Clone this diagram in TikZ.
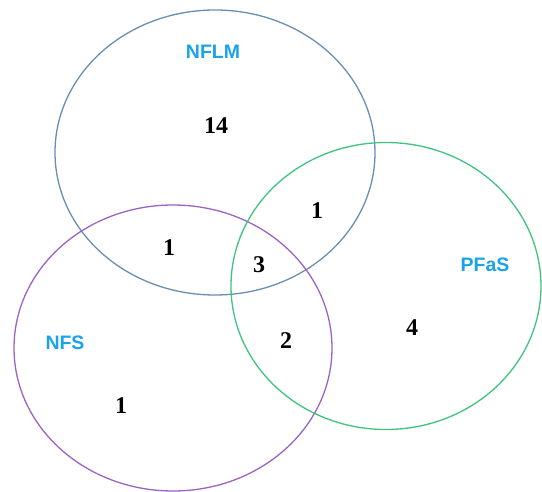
\documentclass[tikz,border=0pt]{standalone}
\usepackage{fontspec}
\newfontfamily\labelfont{Liberation Sans}
\newfontfamily\numfont{Liberation Serif}
\definecolor{setblue}{HTML}{6A8DB2}
\definecolor{setpurple}{HTML}{9B63C6}
\definecolor{setgreen}{HTML}{3EC47E}
\definecolor{labelblue}{HTML}{1AA3E8}
\begin{document}
\begin{tikzpicture}[x=1pt,y=-1pt,
  setring/.style={line width=1.3pt},
  setname/.style={font=\labelfont\bfseries\fontsize{19.5}{22}\selectfont, text=labelblue, inner sep=0pt},
  count/.style={font=\numfont\bfseries\fontsize{24}{28}\selectfont, text=black, inner sep=0pt}]
  \useasboundingbox (0,0) rectangle (542,492);
  % the three sets
  \draw[setring, setblue]   (215,152.5) ellipse [x radius=160, y radius=142.5];
  \draw[setring, setpurple] (173,348) ellipse [x radius=159, y radius=143];
  \draw[setring, setgreen]  (386,286) ellipse [x radius=155, y radius=143.5];
  % set names
  \node[setname] (nflm) at (213,52) {NFLM};
  \node[setname] (nfs)  at (65,343) {NFS};
  \node[setname] (pfas) at (485,265) {PFaS};
  % region counts
  \node[count] (onlyNFLM) at (216,126) {14};
  \node[count] (nflmPfas) at (317,211) {1};
  \node[count] (nflmNfs)  at (169,248) {1};
  \node[count] (allThree) at (259,265) {3};
  \node[count] (nfsPfas)  at (286,341) {2};
  \node[count] (onlyPFaS) at (412,328) {4};
  \node[count] (onlyNFS)  at (121,406) {1};
\end{tikzpicture}
\end{document}
